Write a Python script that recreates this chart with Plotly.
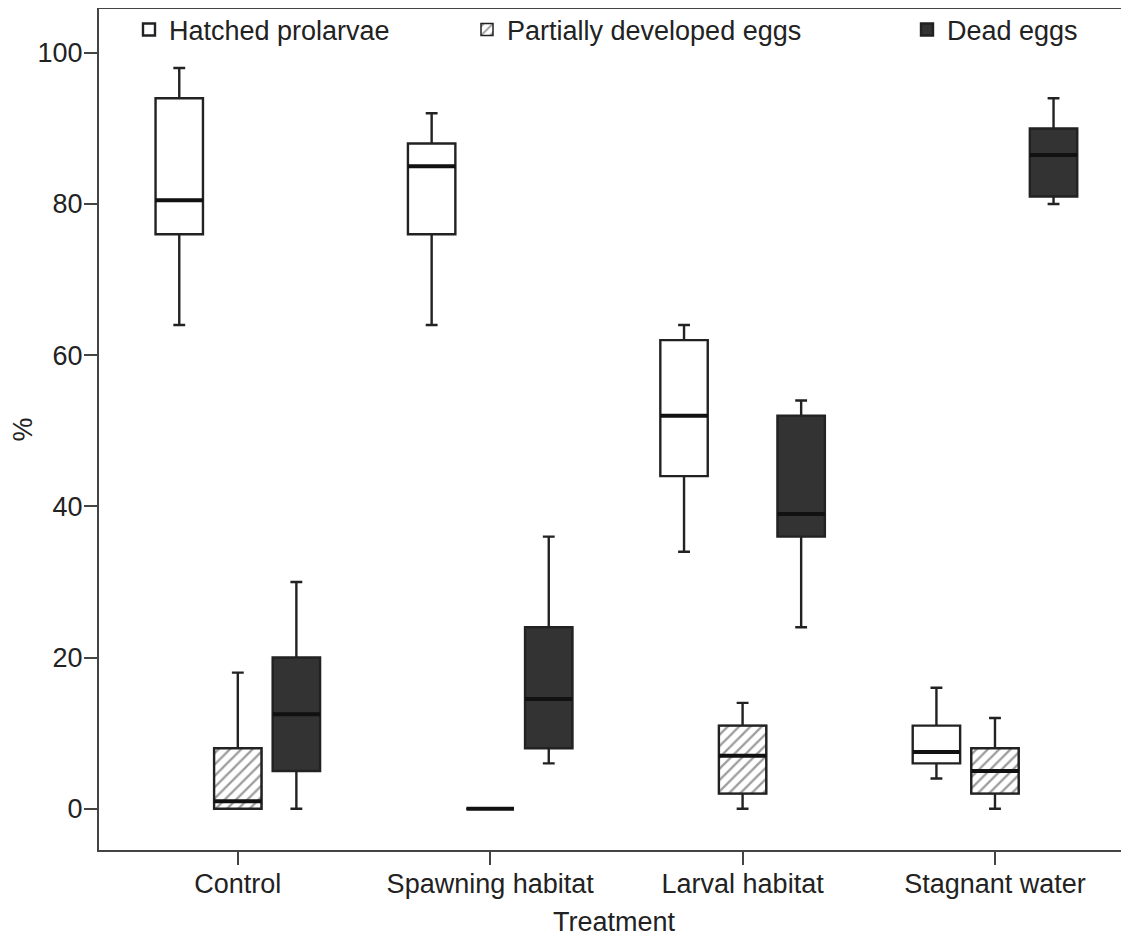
import plotly.graph_objects as go

categories = ["Control", "Spawning habitat", "Larval habitat", "Stagnant water"]

# five-number summaries per treatment: lower whisker, Q1, median, Q3, upper whisker
hatched_low = [64, 64, 34, 4]
hatched_q1 = [76, 76, 44, 6]
hatched_med = [80.5, 85, 52, 7.5]
hatched_q3 = [94, 88, 62, 11]
hatched_high = [98, 92, 64, 16]

partial_low = [0, 0, 0, 0]
partial_q1 = [0, 0, 2, 2]
partial_med = [1, 0, 7, 5]
partial_q3 = [8, 0, 11, 8]
partial_high = [18, 0, 14, 12]

dead_low = [0, 6, 24, 80]
dead_q1 = [5, 8, 36, 81]
dead_med = [12.5, 14.5, 39, 86.5]
dead_q3 = [20, 24, 52, 90]
dead_high = [30, 36, 54, 94]

series_names = ["Hatched prolarvae", "Partially developed eggs", "Dead eggs"]
y_ticks = [0, 20, 40, 60, 80, 100]

FONT = "Liberation Sans, Arial, sans-serif"
INK = "#222222"
PAGE_PAD = 8  # default body margin of the html page

fig = go.Figure()

# hatched fill for partially developed eggs (drawn under the box outline)
fig.add_trace(go.Bar(
    x=categories,
    base=partial_q1,
    y=[q3 - q1 for q1, q3 in zip(partial_q1, partial_q3)],
    width=0.188, offset=-0.094,
    alignmentgroup="hatch", offsetgroup="hatch",
    marker=dict(color="white",
                line=dict(color=INK, width=1.5),
                pattern=dict(shape="/", size=8, solidity=0.28,
                             fgcolor="#3a3a3a", bgcolor="white", fillmode="overlay")),
    name=series_names[1], legend="legend2", showlegend=True,
    hoverinfo="skip",
))

def add_box(name, low, q1, med, q3, high, fill, legend, show):
    fig.add_trace(go.Box(
        x=categories, lowerfence=low, q1=q1, median=med, q3=q3, upperfence=high,
        name=name, fillcolor=fill, line=dict(color=INK, width=2.4),
        whiskerwidth=0.25, boxpoints=False, legend=legend, showlegend=show,
        alignmentgroup="boxes", offsetgroup=name,
    ))
    # thicker median bar drawn on top, at the same slot
    fig.add_trace(go.Box(
        x=categories, lowerfence=med, q1=med, median=med, q3=med, upperfence=med,
        name=name + " median", fillcolor="rgba(0,0,0,0)", line=dict(color="#111111", width=4),
        whiskerwidth=0, boxpoints=False, showlegend=False, hoverinfo="skip",
        alignmentgroup="boxes", offsetgroup=name,
    ))

add_box(series_names[0], hatched_low, hatched_q1, hatched_med, hatched_q3, hatched_high,
        "white", "legend", True)
add_box(series_names[1], partial_low, partial_q1, partial_med, partial_q3, partial_high,
        "rgba(0,0,0,0)", "legend2", False)
add_box(series_names[2], dead_low, dead_q1, dead_med, dead_q3, dead_high,
        "#333333", "legend3", True)

W, H = 1129 - PAGE_PAD, 937 - PAGE_PAD
legend_y = 1 - (30 - PAGE_PAD) / H
legend_common = dict(orientation="h", xref="container", yref="container",
                     yanchor="middle", xanchor="left", bgcolor="rgba(0,0,0,0)",
                     font=dict(family=FONT, size=27, color=INK))

fig.update_layout(
    width=W, height=H,
    margin=dict(l=99 - PAGE_PAD, r=0, t=9 - PAGE_PAD, b=937 - 850, autoexpand=False),
    plot_bgcolor="white", paper_bgcolor="white",
    boxmode="group", boxgap=0.304, boxgroupgap=0.19,
    barmode="overlay",
    font=dict(family=FONT, size=27, color=INK),
    legend=dict(x=(129 - PAGE_PAD) / W, y=legend_y, **legend_common),
    legend2=dict(x=(467 - PAGE_PAD) / W, y=legend_y, **legend_common),
    legend3=dict(x=(907 - PAGE_PAD) / W, y=legend_y, **legend_common),
    xaxis=dict(
        range=[-0.55, 3.531], showline=True, linecolor="#444444", linewidth=2,
        mirror=True, ticks="outside", ticklen=13, tickwidth=2, tickcolor="#444444",
        showgrid=False, zeroline=False, ticklabelstandoff=-4,
        tickfont=dict(family=FONT, size=27, color=INK),
        title=dict(text="Treatment", font=dict(family=FONT, size=27, color=INK), standoff=16),
    ),
    yaxis=dict(
        range=[-5.46, 105.8], showline=True, linecolor="#444444", linewidth=2,
        ticks="outside", ticklen=13, tickwidth=2, tickcolor="#444444",
        tickvals=y_ticks, showgrid=False, zeroline=False, ticklabelstandoff=-4,
        tickfont=dict(family=FONT, size=27, color=INK),
        title=dict(text="%", font=dict(family=FONT, size=27, color=INK), standoff=4),
    ),
)

fig.write_html("out.html")
